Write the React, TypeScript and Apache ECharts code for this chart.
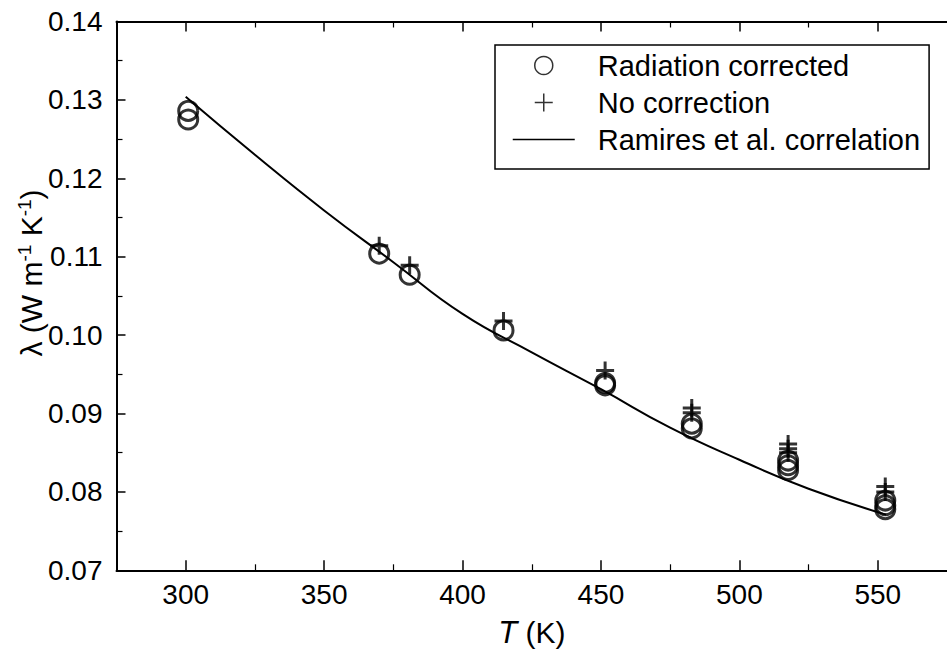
import React, { useEffect, useRef } from 'react';
import * as echarts from 'echarts';

const FONT = '"Liberation Sans", Arial, Helvetica, sans-serif';

// Tick positions (K)
const xMajorTicks = [300, 350, 400, 450, 500, 550];
const xMinorTicks = [325, 375, 425, 475, 525];

// Radiation corrected (circles)
const radT = [300.9, 300.9, 369.9, 380.9, 414.8, 451.5, 451.5, 482.8, 482.8, 517.6, 517.6, 517.6, 552.7, 552.7, 552.7];
const radL = [0.1286, 0.1275, 0.1104, 0.1077, 0.1006, 0.0939, 0.0936, 0.0887, 0.0881, 0.0840, 0.0834, 0.0828, 0.0789, 0.0783, 0.0778];

// No correction (plus signs)
const rawT = [369.9, 380.9, 414.8, 451.5, 482.8, 482.8, 517.6, 517.6, 517.6, 552.7, 552.7];
const rawL = [0.1114, 0.1089, 0.1018, 0.0955, 0.0907, 0.0901, 0.0861, 0.0855, 0.0850, 0.0807, 0.0800];

// Ramires et al. correlation (line)
const corrT = [300, 325, 350, 375, 400, 425, 450, 475, 500, 525, 553];
const corrL = [0.1304, 0.1230, 0.1159, 0.1093, 0.1027, 0.0978, 0.0931, 0.0882, 0.0841, 0.0804, 0.0771];

const zip = (a: number[], b: number[]) => a.map((v, i) => [v, b[i]]);

export default function App() {
  const ref = useRef<HTMLDivElement>(null);
  useEffect(() => {
    if (!ref.current) return;
    const chart = echarts.init(ref.current, undefined, { renderer: 'svg' });
    const black = '#000';
    const xBase = {
      type: 'value' as const,
      min: 275,
      max: 575,
      splitLine: { show: false },
    };
    chart.setOption({
      animation: false,
      backgroundColor: '#fff',
      textStyle: { fontFamily: FONT, color: black },
      grid: { left: 116.5, right: -9.5, top: 21.5, bottom: 84.7, containLabel: false },
      xAxis: [
        {
          ...xBase,
          position: 'bottom',
          axisLine: { show: true, lineStyle: { color: black, width: 2 } },
          axisTick: { show: true, inside: true, length: 10, lineStyle: { color: black, width: 1.5 }, customValues: xMajorTicks },
          axisLabel: { show: true, customValues: xMajorTicks, fontSize: 28, color: black, fontFamily: FONT, margin: 10 },
          name: '{i|T} (K)',
          nameLocation: 'middle',
          nameGap: 47,
          nameTextStyle: {
            fontSize: 30,
            color: black,
            fontFamily: FONT,
            rich: { i: { fontSize: 31, fontStyle: 'italic', fontFamily: FONT, color: black } },
          },
        },
        {
          ...xBase,
          position: 'bottom',
          axisLine: { show: false },
          axisTick: { show: true, inside: true, length: 6, lineStyle: { color: black, width: 1.2 }, customValues: xMinorTicks },
          axisLabel: { show: false },
        },
        {
          ...xBase,
          position: 'top',
          axisLine: { show: true, lineStyle: { color: black, width: 2 } },
          axisTick: { show: true, inside: true, length: 10, lineStyle: { color: black, width: 1.5 }, customValues: xMajorTicks },
          axisLabel: { show: false },
        },
        {
          ...xBase,
          position: 'top',
          axisLine: { show: false },
          axisTick: { show: true, inside: true, length: 6, lineStyle: { color: black, width: 1.2 }, customValues: xMinorTicks },
          axisLabel: { show: false },
        },
      ],
      yAxis: [
        {
          type: 'value',
          min: 0.07,
          max: 0.14,
          interval: 0.01,
          position: 'left',
          axisLine: { show: true, lineStyle: { color: black, width: 2 } },
          axisTick: { show: true, inside: true, length: 9, lineStyle: { color: black, width: 1.5 } },
          minorTick: { show: true, splitNumber: 2, length: 6, lineStyle: { color: black, width: 1.2 } },
          minorSplitLine: { show: false },
          splitLine: { show: false },
          axisLabel: {
            fontSize: 28,
            color: black,
            fontFamily: FONT,
            margin: 14,
            formatter: (v: number) => v.toFixed(2),
          },
        },
      ],
      legend: {
        orient: 'vertical',
        left: 495,
        top: 45,
        padding: [5, 9, 14, 17],
        borderColor: black,
        borderWidth: 1.5,
        backgroundColor: '#fff',
        itemWidth: 62,
        itemHeight: 18,
        itemGap: 6,
        selectedMode: false,
        itemStyle: { borderWidth: 1.5 },
        textStyle: { fontSize: 29, fontFamily: FONT, color: black, lineHeight: 31, padding: [0, 0, 0, 18] },
        data: [
          { name: 'Radiation corrected' },
          { name: 'No correction' },
          {
            name: 'Ramires et al. correlation',
            itemStyle: { color: 'transparent', borderColor: 'transparent', borderWidth: 0 },
            lineStyle: { color: black, width: 1.5 },
          },
        ],
      },
      graphic: [
        {
          type: 'text',
          x: 31,
          y: 273,
          rotation: Math.PI / 2,
          style: {
            text: 'λ (W m{s|-1} K{s|-1})',
            fontSize: 30,
            fontFamily: FONT,
            fill: black,
            align: 'center',
            verticalAlign: 'middle',
            lineHeight: 32,
            rich: {
              s: { fontSize: 19, fontFamily: FONT, fill: black, verticalAlign: 'top', lineHeight: 32 },
            },
          },
        },
      ],
      series: [
        {
          name: 'Ramires et al. correlation',
          type: 'line',
          xAxisIndex: 0,
          yAxisIndex: 0,
          data: zip(corrT, corrL),
          smooth: true,
          symbol: 'none',
          showSymbol: false,
          lineStyle: { color: black, width: 2 },
          itemStyle: { color: black },
          z: 2,
        },
        {
          name: 'Radiation corrected',
          type: 'scatter',
          xAxisIndex: 0,
          yAxisIndex: 0,
          data: zip(radT, radL),
          symbol: 'circle',
          symbolSize: 19,
          itemStyle: { color: 'transparent', borderColor: black, borderWidth: 3 },
          z: 3,
        },
        {
          name: 'No correction',
          type: 'scatter',
          xAxisIndex: 0,
          yAxisIndex: 0,
          data: zip(rawT, rawL),
          symbol: 'path://M0,-10 L0,10 M-10,0 L10,0',
          symbolKeepAspect: true,
          symbolSize: 18,
          itemStyle: { color: 'transparent', borderColor: black, borderWidth: 3 },
          z: 4,
        },
      ],
    });
    return () => chart.dispose();
  }, []);
  return <div ref={ref} style={{ position: 'fixed', left: 0, top: 0, width: 947, height: 655 }} />;
}
